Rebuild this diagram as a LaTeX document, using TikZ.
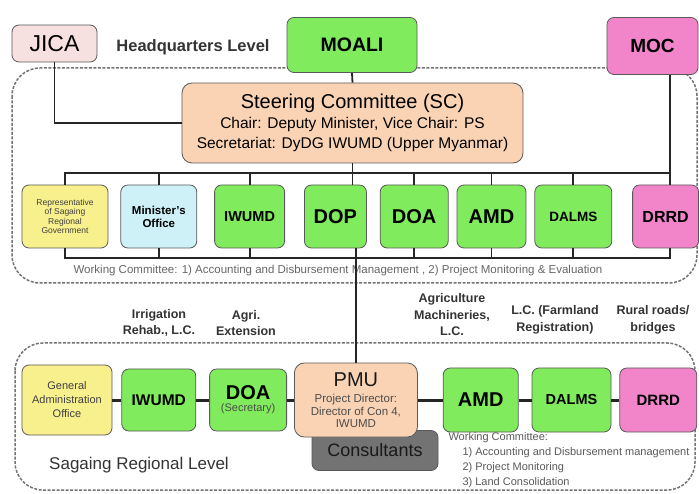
\documentclass[tikz,border=0pt]{standalone}
\usepackage{fontspec}
\setmainfont{Liberation Sans}
\usepackage{tikz}
\usetikzlibrary{positioning}
\definecolor{boxgreen}{HTML}{80EB5C}
\definecolor{boxpink}{HTML}{F284CA}
\definecolor{boxpeach}{HTML}{FAD3B5}
\definecolor{boxyellow}{HTML}{F7F08C}
\definecolor{boxcyan}{HTML}{CDF1F7}
\definecolor{boxrose}{HTML}{F7E0E0}
\definecolor{boxgray}{HTML}{737373}
\newcommand{\setfs}[2]{\fontsize{#1}{#2}\selectfont}

\begin{document}
\begin{tikzpicture}[x=1pt, y=-1pt,
    box/.style={draw=black!65, line width=0.8pt, rounded corners=7pt, align=center, inner sep=1pt},
    greenbox/.style={box, fill=boxgreen, font=\bfseries\setfs{20}{22}},
    pinkbox/.style={box, fill=boxpink, font=\bfseries\setfs{16}{18}},
    peachbox/.style={box, fill=boxpeach, rounded corners=10pt},
    link/.style={line width=1.8pt, black!85},
    chain/.style={line width=3pt, black!85},
    level/.style={draw=black!55, line width=1.5pt, dash pattern=on 3pt off 1.5pt, rounded corners=28pt},
    tag/.style={font=\bfseries\setfs{12.5}{16.5}, text=black!80, align=center},
    note/.style={font=\setfs{11}{15}, text=black!65, align=left},
]
\useasboundingbox (0,0) rectangle (699,494);
\draw[level] (12,68) rectangle (697,283);
\draw[level] (15,343) rectangle (695,490);

\node[box, fill=boxrose, minimum width=85pt, minimum height=37pt, font=\setfs{23}{26}] (jica) at (54.5,43.5) {JICA};
\node[font=\bfseries\setfs{16.5}{18}, text=black!80] (hq) at (193,47) {Headquarters Level};
\node[greenbox, minimum width=130pt, minimum height=55pt, font=\bfseries\setfs{19.5}{22}] (moali) at (352,45) {MOALI};
\node[pinkbox, minimum width=91pt, minimum height=57pt, font=\bfseries\setfs{19}{22}] (moc) at (652.5,46) {MOC};
\node[peachbox, minimum width=341pt, minimum height=80pt, font=\setfs{15.5}{20}] (sc) at (352.5,123)
    {{\setfs{20}{24}Steering Committee (SC)}\\Chair: Deputy Minister, Vice Chair: PS\\Secretariat: DyDG IWUMD (Upper Myanmar)};

\node[box, fill=boxyellow, minimum width=86pt, minimum height=63pt, font=\setfs{8.5}{9.5}, text=black!75] (rep) at (65,216.5) {Representative\\of Sagaing\\Regional\\Government};
\node[box, fill=boxcyan, minimum width=76pt, minimum height=63pt, font=\bfseries\setfs{11.5}{13}, right=12pt of rep] (office) {Minister's\\Office};
\node[greenbox, minimum width=70pt, minimum height=63pt, font=\bfseries\setfs{14.5}{16}, right=17pt of office] (iwumd) {IWUMD};
\node[greenbox, minimum width=62pt, minimum height=63pt, right=19pt of iwumd] (dop) {DOP};
\node[greenbox, minimum width=68pt, minimum height=63pt, right=13pt of dop] (doa) {DOA};
\node[greenbox, minimum width=69pt, minimum height=63pt, right=8pt of doa] (amd) {AMD};
\node[greenbox, minimum width=77pt, minimum height=63pt, font=\bfseries\setfs{13.5}{15}, right=8pt of amd] (dalms) {DALMS};
\node[pinkbox, minimum width=66pt, minimum height=63pt, right=20pt of dalms] (drrd) {DRRD};
\node[font=\setfs{11.5}{13}, text=black!60] (wc) at (338,271) {Working Committee: 1) Accounting and Disbursement Management , 2) Project Monitoring \& Evaluation};

\coordinate (topbus) at (0,173);
\coordinate (botbus) at (0,258);
\coordinate (rbus) at (670,0);

\draw[link] (jica.south) |- (sc.west);
\draw[link] (moali.south) -- (sc.north);
\draw[link] (moc.south -| rbus) -- (rbus |- drrd.north);
\draw[link] (rep.north) |- (topbus -| rbus);
\draw[link] (sc.south) -- (sc.south |- dop.north);
\foreach \n in {office, iwumd, doa, amd, dalms}
    \draw[link] (\n.north) -- (\n.north |- topbus);
\draw[link] (rep.south) |- (botbus -| rbus) -- (rbus |- drrd.south);
\foreach \n in {office, iwumd, doa, amd, dalms}
    \draw[link] (\n.south) -- (\n.south |- botbus);

\node[tag] (irr) at (159,323) {Irrigation\\Rehab., L.C.};
\node[tag] (ext) at (246,323) {Agri.\\Extension};
\node[tag] (mech) at (452,315) {Agriculture\\Machineries,\\L.C.};
\node[tag] (farm) at (555,320) {L.C. (Farmland\\Registration)};
\node[tag] (rural) at (653,320) {Rural roads/\\bridges};

\node[box, fill=boxyellow, minimum width=90pt, minimum height=70pt, font=\setfs{11}{14}, text=black!75] (gao) at (67,400) {General\\Administration\\Office};
\node[greenbox, minimum width=74pt, minimum height=62pt, font=\bfseries\setfs{15.5}{17}, right=9pt of gao] (iwumd2) {IWUMD};
\node[greenbox, minimum width=77pt, minimum height=62pt, font=\setfs{11}{12}, right=13pt of iwumd2] (doa2) {{\bfseries\setfs{20}{22}DOA}\\{\color{black!70}(Secretary)}};
\node[box, fill=boxgray, minimum width=126pt, minimum height=40pt, font=\setfs{18}{20}, text=black!90] (cons) at (375,450.5) {Consultants};
\node[peachbox, minimum width=123pt, minimum height=74pt, font=\setfs{11.5}{12.5}, text=black!70, right=7pt of doa2] (pmu) {{\color{black!90}\setfs{20}{22}PMU}\\[4pt]Project Director:\\Director of Con 4,\\IWUMD};
\node[greenbox, minimum width=75pt, minimum height=64pt, right=25pt of pmu] (amd2) {AMD};
\node[greenbox, minimum width=79pt, minimum height=64pt, font=\bfseries\setfs{14.5}{16}, right=13pt of amd2] (dalms2) {DALMS};
\node[pinkbox, minimum width=77pt, minimum height=64pt, font=\bfseries\setfs{15}{17}, right=8pt of dalms2] (drrd2) {DRRD};

\draw[link] (pmu.north) -- (pmu.north |- dop.south);
\draw[chain] (gao) -- (iwumd2);
\draw[chain] (iwumd2) -- (doa2);
\draw[chain] (doa2) -- (pmu);
\draw[chain] (pmu) -- (amd2);
\draw[chain] (amd2) -- (dalms2);
\draw[chain] (dalms2) -- (drrd2);

\node[note, anchor=north west] (wc2) at (445,429) {Working Committee:\\\hspace*{14pt}1) Accounting and Disbursement management\\\hspace*{14pt}2) Project Monitoring\\\hspace*{14pt}3) Land Consolidation};
\node[font=\setfs{17}{19}, text=black!80] (region) at (139,465) {Sagaing Regional Level};
\end{tikzpicture}
\end{document}
